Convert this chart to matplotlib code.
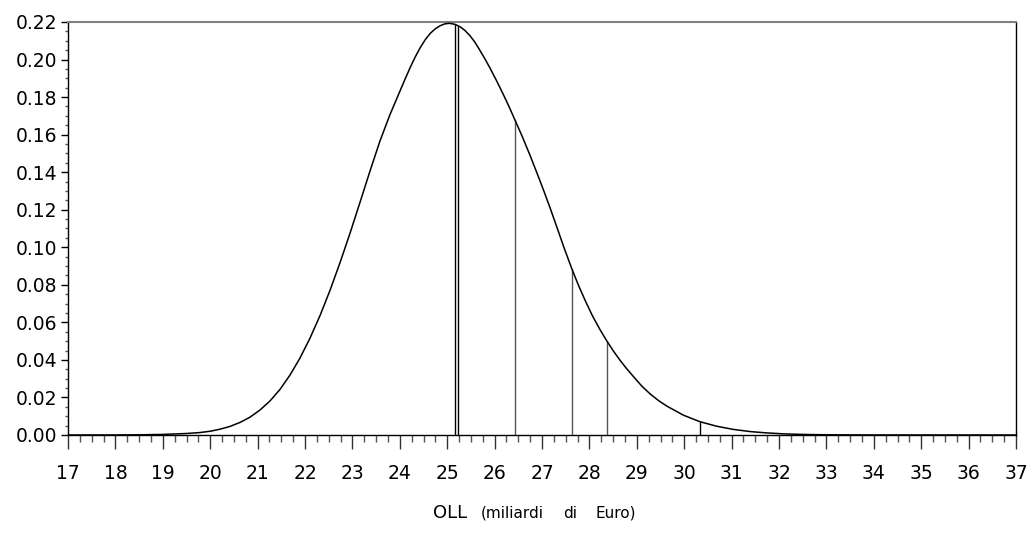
import matplotlib
matplotlib.use("Agg")
import matplotlib.pyplot as plt
from matplotlib.ticker import MultipleLocator, FormatStrFormatter

plt.rcParams['font.family'] = ['DejaVu Sans']

# Density curve
curve_x = [17.0, 18.0, 18.5, 19.0, 19.5, 19.78, 20.0, 20.21, 20.42, 20.63,
           20.84, 21.05, 21.26, 21.47, 21.68, 21.89, 22.1, 22.32, 22.53, 22.74,
           22.95, 23.16, 23.37, 23.58, 23.79, 24.0, 24.11, 24.22, 24.33, 24.43,
           24.54, 24.64, 24.75, 24.85, 24.95, 25.04, 25.16, 25.27, 25.37, 25.48,
           25.58, 25.69, 25.8, 25.9, 26.04, 26.18, 26.3, 26.43, 26.59, 26.75,
           26.89, 27.03, 27.17, 27.31, 27.47, 27.63, 27.77, 27.91, 28.06, 28.22,
           28.37, 28.51, 28.65, 28.78, 28.92, 29.1, 29.28, 29.46, 29.64, 29.98,
           30.33, 30.68, 31.03, 31.4, 31.75, 32.1, 32.5, 33.0, 33.5, 34.0, 37.0]
curve_y = [0.0, 0.00003, 0.0001, 0.0003, 0.0008, 0.0013, 0.0020, 0.0031, 0.0046, 0.0067,
           0.0095, 0.0133, 0.0181, 0.0242, 0.0318, 0.0408, 0.0513, 0.0638, 0.0772, 0.0919,
           0.1075, 0.1239, 0.1405, 0.1565, 0.1705, 0.1830, 0.1895, 0.1958, 0.2016, 0.2063,
           0.2107, 0.2139, 0.2164, 0.2180, 0.2190, 0.2193, 0.2188, 0.2175, 0.2156, 0.2127,
           0.2094, 0.2049, 0.2002, 0.1956, 0.1888, 0.1816, 0.1752, 0.1678, 0.1586, 0.1488,
           0.1398, 0.1306, 0.1210, 0.1110, 0.0994, 0.0885, 0.0797, 0.0717, 0.0637, 0.0563,
           0.0500, 0.0446, 0.0397, 0.0355, 0.0314, 0.0262, 0.0219, 0.0183, 0.0153, 0.0106,
           0.0071, 0.0047, 0.0030, 0.0018, 0.0011, 0.0006, 0.0003, 0.00012, 0.00005, 0.00002, 0.0]

# Vertical marker lines (position, height)
marker_x = [25.16, 25.23, 26.43, 27.63, 28.37, 30.33]
marker_h = [0.2188, 0.2180, 0.1678, 0.0885, 0.0500, 0.0071]
marker_color = ['black', 'black', '#555555', '#555555', '#555555', 'black']

x_ticks = list(range(17, 38))
y_ticks = [0.00, 0.02, 0.04, 0.06, 0.08, 0.10, 0.12, 0.14, 0.16, 0.18, 0.20, 0.22]

fig = plt.figure(figsize=(10.32, 5.52), dpi=100)
ax = fig.add_axes([68/1032, 1 - 435/552, (1016-68)/1032, (435-22)/552])

ax.plot(curve_x, curve_y, color='black', lw=1.1, solid_joinstyle='round',
        solid_capstyle='round', zorder=3)
for mx, mh, mc in zip(marker_x, marker_h, marker_color):
    ax.vlines(mx, 0, mh, color=mc, lw=1.0, zorder=2)

ax.set_xlim(17, 37)
ax.set_ylim(0, 0.22)
ax.set_xticks(x_ticks)
ax.set_xticklabels([str(t) for t in x_ticks])
ax.set_yticks(y_ticks)
ax.yaxis.set_major_formatter(FormatStrFormatter('%.2f'))
ax.xaxis.set_minor_locator(MultipleLocator(0.25))
ax.yaxis.set_minor_locator(MultipleLocator(0.005))

ax.tick_params(axis='x', which='major', direction='out', length=10, width=1,
               labelsize=13.5, pad=11, color='#333333')
ax.tick_params(axis='x', which='minor', direction='out', length=5, width=1, color='#555555')
ax.tick_params(axis='y', which='major', direction='out', length=5, width=1,
               labelsize=13.5, pad=3)
ax.tick_params(axis='y', which='minor', direction='out', length=2.5, width=1, color='#555555')

for s in ['left', 'bottom', 'right']:
    ax.spines[s].set_color('black')
    ax.spines[s].set_linewidth(1.0)
ax.spines['top'].set_color('#808080')
ax.spines['top'].set_linewidth(1.5)

base_y = 1 - 518/552
fig.text(450/1032, base_y, 'OLL', fontsize=13, ha='center', va='baseline')
fig.text(512/1032, base_y, '(miliardi', fontsize=11, ha='center', va='baseline')
fig.text(570/1032, base_y, 'di', fontsize=11, ha='center', va='baseline')
fig.text(615.5/1032, base_y, 'Euro)', fontsize=11, ha='center', va='baseline')

fig.savefig('out.png', dpi=100)
